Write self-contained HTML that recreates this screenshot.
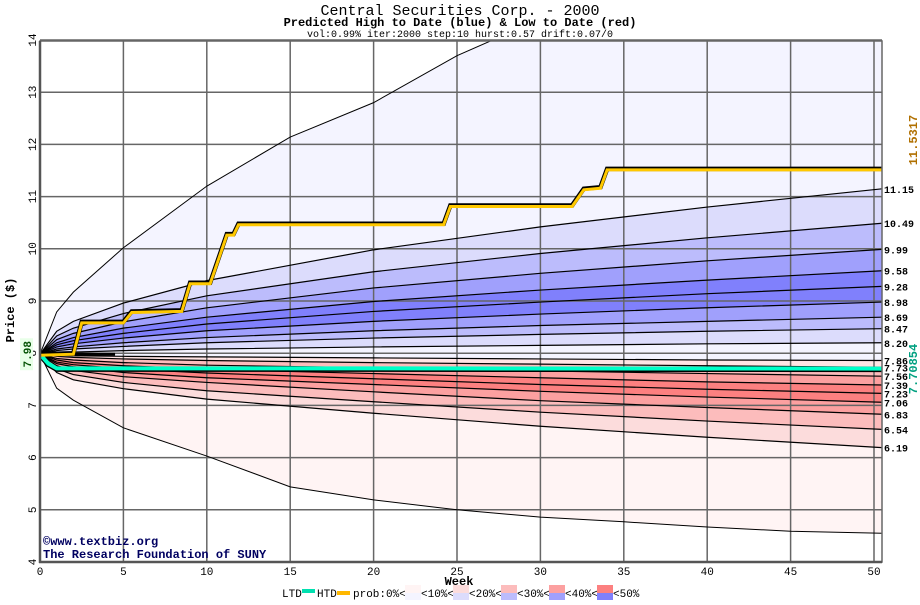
<!DOCTYPE html>
<html><head><meta charset="utf-8"><style>
body{margin:0;background:#fff;}
svg text{font-family:"Liberation Mono","DejaVu Sans Mono",monospace;}
</style></head><body>
<svg id="chart" width="920" height="600" viewBox="0 0 920 600" xmlns="http://www.w3.org/2000/svg">
<rect width="920" height="600" fill="#fff"/>
<text x="460" y="15" font-size="15" text-anchor="middle">Central Securities Corp. - 2000</text>
<text x="460" y="26" font-size="12" font-weight="bold" text-anchor="middle">Predicted High to Date (blue) &amp;  Low to Date (red)</text>
<text x="460" y="37" font-size="10" text-anchor="middle">vol:0.99% iter:2000 step:10 hurst:0.57 drift:0.07/0</text>
<defs><clipPath id="pc"><rect x="40" y="41" width="842" height="521"/></clipPath></defs>
<g id="bands" clip-path="url(#pc)"></g>
<g id="grid"></g>
<g id="lines" clip-path="url(#pc)"></g>
<g id="axes"></g>
<text transform="translate(14,310) rotate(-90)" font-size="12" font-weight="bold" text-anchor="middle">Price ($)</text>
<text x="459" y="585" font-size="12" font-weight="bold" text-anchor="middle">Week</text>
<text x="43" y="545" font-size="12" font-weight="bold" fill="#000060">©www.textbiz.org</text>
<text x="43" y="558" font-size="12" font-weight="bold" fill="#000060">The Research Foundation of SUNY</text>
<g id="legend"></g>
</svg>
<script>
const weeks=[0,1,2,5,10,20,30,40,50.5];
const bandLabels=["11.15","10.49","9.99","9.58","9.28","8.98","8.69","8.47","8.20","7.86","7.73","7.56","7.39","7.23","7.06","6.83","6.54","6.19"];
const p1115=[7.98,8.42,8.61,8.96,9.39,9.98,10.42,10.80,11.15];
const p1049=[7.98,8.33,8.48,8.76,9.10,9.56,9.91,10.21,10.49];
const p999=[7.98,8.26,8.38,8.60,8.87,9.25,9.53,9.77,9.99];
const p958=[7.98,8.20,8.30,8.48,8.69,8.99,9.21,9.40,9.58];
const p928=[7.98,8.16,8.24,8.38,8.56,8.80,8.98,9.14,9.28];
const p898=[7.98,8.12,8.18,8.29,8.43,8.61,8.75,8.87,8.98];
const p869=[7.98,8.08,8.12,8.20,8.30,8.43,8.53,8.61,8.69];
const p847=[7.98,8.05,8.08,8.13,8.20,8.29,8.36,8.42,8.47];
const p820=[7.98,8.01,8.02,8.05,8.08,8.12,8.15,8.18,8.20];
const p786=[7.98,7.96,7.95,7.94,7.93,7.91,7.89,7.87,7.86];
const p773=[7.98,7.94,7.92,7.89,7.86,7.82,7.79,7.76,7.73];
const p756=[7.98,7.90,7.87,7.82,7.77,7.72,7.66,7.61,7.56];
const p739=[7.98,7.87,7.82,7.76,7.69,7.61,7.53,7.45,7.39];
const p723=[7.98,7.83,7.78,7.70,7.62,7.51,7.40,7.31,7.23];
const p706=[7.98,7.80,7.74,7.63,7.53,7.40,7.27,7.16,7.06];
const p683=[7.98,7.76,7.67,7.55,7.44,7.26,7.09,6.96,6.83];
const p654=[7.98,7.70,7.59,7.44,7.28,7.07,6.87,6.70,6.54];
const p619=[7.98,7.63,7.49,7.32,7.12,6.85,6.60,6.39,6.19];
const outerWeeks=[0,1,2,5,10,15,20,25,30,35,40,45,50.5];
const outerTop=[7.98,8.79,9.17,10.02,11.2,12.14,12.8,13.7,14.4,14.9,15.3,15.7,16.1];
const outerBottom=[7.98,7.33,7.10,6.57,6.03,5.44,5.19,5.0,4.86,4.77,4.67,4.59,4.55];
const htdWeeks=[0,2,2.5,5,5.5,8.5,9,10.2,11.2,11.6,11.9,24.2,24.6,31.9,32.6,33.6,34.0,50.5];
const htdValues=[7.98,8.0,8.6,8.6,8.8,8.82,9.35,9.35,10.28,10.28,10.48,10.48,10.83,10.83,11.15,11.18,11.53,11.53];
const ltdWeeks=[0,0.5,1,50.5];
const ltdValues=[7.98,7.8,7.71,7.7054];
const xTicks=[0,5,10,15,20,25,30,35,40,45,50];
const yTicks=[4,5,6,7,8,9,10,11,12,13,14];
const bandColors=["#f4f4ff","#dcdcfc","#bcbcfc","#a0a0fc","#8080fc","#8080fc","#a0a0fc","#bcbcfc","#dcdcfc","#f4f4ff","#ffe4e4","#fcbcbc","#fca0a0","#fc8080","#fc8080","#fca0a0","#fcbcbc","#fcdcdc","#fff4f4"];

const NS="http://www.w3.org/2000/svg";
function X(w){return 40+w*16.68;}
function Y(p){return 562-(p-4)*52.2;}
function mk(tag,attrs,parent){const e=document.createElementNS(NS,tag);for(const k in attrs)e.setAttribute(k,attrs[k]);parent.appendChild(e);return e;}
function pts(ws,vs){return ws.map((w,i)=>[X(w),Y(vs[i])]);}

const inner=[p1115,p1049,p999,p958,p928,p898,p869,p847,p820,p786,p773,p756,p739,p723,p706,p683,p654,p619];
const curves=[pts(outerWeeks,outerTop)].concat(inner.map(v=>pts(weeks,v))).concat([pts(outerWeeks,outerBottom)]);
const bands=document.getElementById('bands');
for(let i=0;i<curves.length-1;i++){
  const poly=curves[i].concat(curves[i+1].slice().reverse());
  const el=mk('polygon',{points:poly.map(p=>p.join(',')).join(' '),fill:bandColors[i]},bands);
  
  
}
const grid=document.getElementById('grid');
xTicks.forEach(t=>{const l=mk('line',{x1:X(t),x2:X(t),y1:41,y2:562,stroke:'#666','stroke-width':1.5},grid);
  
  });
yTicks.forEach(t=>{const l=mk('line',{x1:40,x2:882,y1:Y(t),y2:Y(t),stroke:'#666','stroke-width':1.5},grid);
  
  });
const lines=document.getElementById('lines');
curves.forEach((c,i)=>{const outer=(i==0||i==curves.length-1);
  const l=mk('polyline',{points:c.map(p=>p.join(',')).join(' '),fill:'none',stroke:'#000','stroke-width':outer?1:1.2},lines);
  
  });
const start=mk('line',{x1:X(0),x2:X(4.5),y1:Y(7.98),y2:Y(7.98),stroke:'#000','stroke-width':3},lines);


const lp=pts(ltdWeeks,ltdValues).map(p=>p.join(',')).join(' ');
const ltdB=mk('polyline',{points:lp,fill:'none',stroke:'#000','stroke-width':5,transform:'translate(0,1)'},lines);


const ltd=mk('polyline',{points:lp,fill:'none',stroke:'#00ffc8','stroke-width':4},lines);


const hp=pts(htdWeeks,htdValues).map(p=>p.join(',')).join(' ');
const htdB=mk('polyline',{points:hp,fill:'none',stroke:'#000','stroke-width':4.5},lines);


const htd=mk('polyline',{points:hp,fill:'none',stroke:'#ffc800','stroke-width':3,transform:'translate(0,1)'},lines);



const axes=document.getElementById('axes');
const fr=mk('rect',{x:40,y:41,width:842,height:521,fill:'none',stroke:'#666','stroke-width':1.5},axes);


const la=mk('line',{x1:40,x2:40,y1:41,y2:563,stroke:'#555','stroke-width':2.5},axes);


const ba=mk('line',{x1:39,x2:882,y1:562,y2:562,stroke:'#555','stroke-width':2.5},axes);


xTicks.forEach(t=>{const e=mk('text',{x:X(t),y:575,'font-size':11,'text-anchor':'middle'},axes);e.textContent=t;
  
  });
yTicks.forEach(t=>{const e=mk('text',{transform:`translate(36,${Y(t)}) rotate(-90)`,'font-size':11,'text-anchor':'middle'},axes);e.textContent=t;
  
  });
const sb=mk('rect',{x:20,y:Y(7.98)-16,width:13,height:32,fill:'#e8ffe8'},axes);


const sl=mk('text',{transform:`translate(31,${Y(7.98)}) rotate(-90)`,'font-size':11,'font-weight':'bold','text-anchor':'middle',fill:'#005000'},axes);sl.textContent='7.98';


inner.forEach((v,i)=>{const e=mk('text',{x:884,y:Y(v[v.length-1])+4,'font-size':10,'font-weight':'bold'},axes);e.textContent=bandLabels[i];
  
  });
const hl=mk('text',{transform:'translate(917,140) rotate(-90)','font-size':12,'font-weight':'bold',fill:'#b07000','text-anchor':'middle'},axes);hl.textContent='11.5317';


const ll=mk('text',{transform:'translate(917,369) rotate(-90)','font-size':12,'font-weight':'bold',fill:'#00a080','text-anchor':'middle'},axes);ll.textContent='7.70854';



const lg=document.getElementById('legend');
function lt(x,s){const e=mk('text',{x:x,y:597,'font-size':11},lg);e.textContent=s;
  
  }
lt(282,'LTD');
const s1=mk('rect',{x:302,y:589,width:13,height:4,fill:'#00e0b0'},lg);


lt(317,'HTD');
const s2=mk('rect',{x:337,y:591,width:13,height:4,fill:'#ffb800'},lg);


lt(353,'prob:0%<');
const pinks=['#fff4f4','#fcdcdc','#fcbcbc','#fca0a0','#fc8080'];
const blues=['#f4f4ff','#dcdcfc','#bcbcfc','#a0a0fc','#8080fc'];
const probLabels=['<10%<','<20%<','<30%<','<40%<','<50%'];
pinks.forEach((c,i)=>{const x=405+i*48;
  const a=mk('rect',{x:x,y:585,width:16,height:8,fill:c},lg);
  
  
  const b=mk('rect',{x:x,y:593,width:16,height:7,fill:blues[i]},lg);
  
  
  lt(x+16,probLabels[i]);});
</script>
</body></html>
